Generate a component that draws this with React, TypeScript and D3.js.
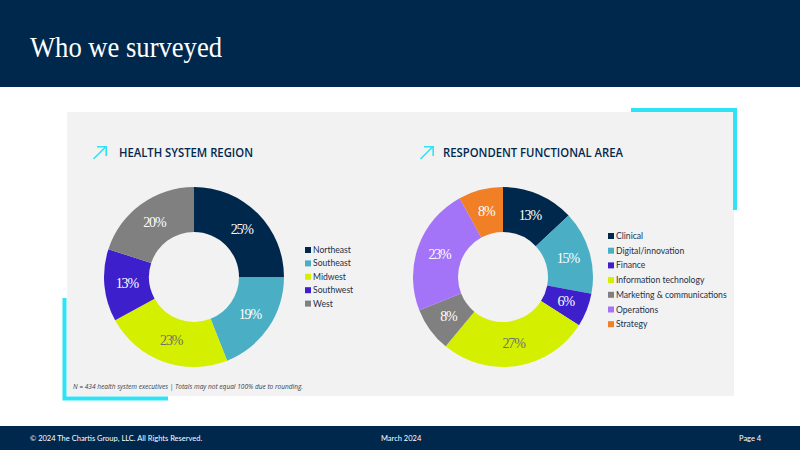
import React from "react";
import * as d3 from "d3";

// Health system region breakdown
const regionLabels = ["Northeast", "Southeast", "Midwest", "Southwest", "West"];
const regionValues = [25, 19, 23, 13, 20];
const regionColors = ["#00284d", "#4aafc5", "#d4ef00", "#3d1fcc", "#808080"];

// Respondent functional area breakdown
const areaLabels = [
  "Clinical",
  "Digital/innovation",
  "Finance",
  "Information technology",
  "Marketing & communications",
  "Operations",
  "Strategy",
];
const areaValues = [13, 15, 6, 27, 8, 23, 8];
const areaColors = ["#00284d", "#4aafc5", "#3d1fcc", "#d4ef00", "#808080", "#a374f8", "#f07f26"];

const NAVY = "#00284d";
const CYAN = "#2ee3f5";
const SANS = "'Open Sans', 'Noto Sans', sans-serif";
const BODY = "Lato, 'Open Sans', sans-serif";
const SERIF = "'Liberation Serif', 'DejaVu Serif', serif";

type DonutProps = {
  cx: number;
  cy: number;
  values: number[];
  colors: string[];
};

function Donut({ cx, cy, values, colors }: DonutProps) {
  const pie = d3.pie<number>().sort(null).value((d) => d);
  const arcs = pie(values);
  const arc = d3.arc<d3.PieArcDatum<number>>().innerRadius(45).outerRadius(90);
  return (
    <g transform={`translate(${cx},${cy})`}>
      {arcs.map((a, i) => (
        <path key={"s" + i} d={arc(a) || ""} fill={colors[i]} />
      ))}
      {arcs.map((a, i) => {
        const [x, y] = arc.centroid(a);
        const dark = colors[i] === "#d4ef00";
        return (
          <text
            key={"t" + i}
            x={x}
            y={y}
            textAnchor="middle"
            dominantBaseline="central"
            fontFamily={SERIF}
            fontSize={14}
            letterSpacing={-1.2}
            fill={dark ? "#707070" : "#ffffff"}
          >
            {a.data}%
          </text>
        );
      })}
    </g>
  );
}

type LegendProps = {
  x: number;
  y: number;
  step: number;
  labels: string[];
  colors: string[];
};

function Legend({ x, y, step, labels, colors }: LegendProps) {
  return (
    <g>
      {labels.map((l, i) => (
        <g key={l} transform={`translate(${x},${y + i * step})`}>
          <rect x={0} y={-3} width={6} height={6} fill={colors[i]} />
          <text
            x={8}
            y={0}
            dominantBaseline="central"
            fontFamily={BODY}
            fontSize={8.6}
            fill="#1d2f4a"
          >
            {l}
          </text>
        </g>
      ))}
    </g>
  );
}

function ArrowIcon({ x, y }: { x: number; y: number }) {
  return (
    <g transform={`translate(${x},${y})`} stroke={CYAN} strokeWidth={1.6} fill="none">
      <line x1={0.5} y1={13} x2={13} y2={0.5} />
      <polyline points="4,0.8 13.2,0.8 13.2,10" />
    </g>
  );
}

export default function App() {
  return (
    <div style={{ position: "fixed", left: 0, top: 0, width: 800, height: 450 }}>
      <svg width={800} height={450} viewBox="0 0 800 450" style={{ display: "block" }}>
        <rect x={0} y={0} width={800} height={450} fill="#ffffff" />
        {/* header band */}
        <rect x={0} y={0} width={800} height={87} fill={NAVY} />
        <text
          x={30}
          y={57}
          fontFamily={SERIF}
          fontSize={30}
          fill="#ffffff"
          textLength={192}
          lengthAdjust="spacingAndGlyphs"
        >
          Who we surveyed
        </text>

        {/* content panel */}
        <rect x={67} y={112} width={667} height={284} fill="#f2f2f2" />

        {/* corner brackets */}
        <polyline points="631,110 735,110 735,210" fill="none" stroke={CYAN} strokeWidth={4} />
        <polyline points="64.5,298 64.5,398.5 168,398.5" fill="none" stroke={CYAN} strokeWidth={4} />

        {/* panel titles */}
        <ArrowIcon x={93} y={146} />
        <text
          x={119}
          y={157}
          fontFamily={SANS}
          fontWeight={600}
          fontSize={12}
          fill={NAVY}
          textLength={134}
          lengthAdjust="spacingAndGlyphs"
        >
          HEALTH SYSTEM REGION
        </text>
        <ArrowIcon x={420} y={146} />
        <text
          x={443}
          y={157}
          fontFamily={SANS}
          fontWeight={600}
          fontSize={12}
          fill={NAVY}
          textLength={180}
          lengthAdjust="spacingAndGlyphs"
        >
          RESPONDENT FUNCTIONAL AREA
        </text>

        <Donut cx={194} cy={277} values={regionValues} colors={regionColors} />
        <Legend x={305} y={250} step={13.4} labels={regionLabels} colors={regionColors} />

        <Donut cx={503} cy={277} values={areaValues} colors={areaColors} />
        <Legend x={608} y={236} step={14.7} labels={areaLabels} colors={areaColors} />

        <text
          x={73}
          y={389}
          fontFamily={SANS}
          fontStyle="italic"
          fontSize={7}
          fill="#333f50"
          textLength={230}
          lengthAdjust="spacingAndGlyphs"
        >
          N = 434 health system executives | Totals may not equal 100% due to rounding.
        </text>

        {/* footer band */}
        <rect x={0} y={426} width={800} height={24} fill={NAVY} />
        <text x={30} y={438} dominantBaseline="central" fontFamily={BODY} fontSize={7.5} fill="#ffffff">
          © 2024 The Chartis Group, LLC. All Rights Reserved.
        </text>
        <text x={381} y={438} dominantBaseline="central" fontFamily={BODY} fontSize={7.5} fill="#ffffff">
          March 2024
        </text>
        <text x={739} y={438} dominantBaseline="central" fontFamily={BODY} fontSize={7.5} fill="#ffffff">
          Page 4
        </text>
      </svg>
    </div>
  );
}
